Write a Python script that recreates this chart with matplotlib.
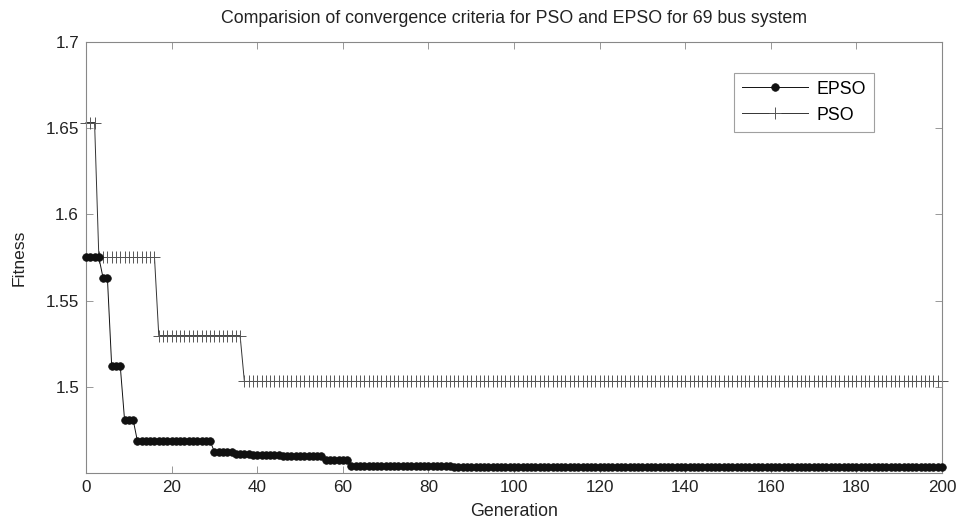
import numpy as np
import matplotlib
matplotlib.use("Agg")
import matplotlib.pyplot as plt

plt.rcParams['font.family'] = ['Liberation Sans', 'DejaVu Sans']

# Data (run-length: fitness level and number of generations)
generations = np.arange(0, 201)

epso_levels = [1.575, 1.563, 1.512, 1.481, 1.4686, 1.4622, 1.4609, 1.4603,
               1.4597, 1.4574, 1.4541, 1.4535]
epso_runs = [4, 2, 3, 3, 18, 5, 4, 7, 10, 6, 24, 115]

pso_levels = [1.6533, 1.575, 1.5297, 1.5031]
pso_runs = [3, 14, 20, 164]

epso = np.repeat(epso_levels, epso_runs)
pso = np.repeat(pso_levels, pso_runs)

x_ticks = [0, 20, 40, 60, 80, 100, 120, 140, 160, 180, 200]
y_ticks = [1.5, 1.55, 1.6, 1.65, 1.7]
y_ticklabels = ['1.5', '1.55', '1.6', '1.65', '1.7']

title = 'Comparision of convergence criteria for PSO and EPSO for 69 bus system'

fig = plt.figure(figsize=(9.6, 5.23), dpi=100)
ax = fig.add_axes([0.0896, 0.0956, 0.8917, 0.8241])

ax.plot(generations, epso, color='#111111', linewidth=0.7, marker='o',
        markersize=5.5, markerfacecolor='#111111', markeredgecolor='#111111',
        markeredgewidth=0.5, label='EPSO', clip_on=False, zorder=3)
ax.plot(generations, pso, color='#333333', linewidth=0.7, marker='+',
        markersize=9, markeredgewidth=0.7, markeredgecolor='#555555',
        label='PSO', clip_on=False, zorder=2)

ax.set_xlim(0, 200)
ax.set_ylim(1.45, 1.7)
ax.set_xticks(x_ticks)
ax.set_yticks(y_ticks)
ax.set_yticklabels(y_ticklabels)

for s in ax.spines.values():
    s.set_color('#888888')
    s.set_linewidth(0.8)
ax.tick_params(direction='in', top=True, right=True, length=5, width=0.6,
               color='#888888', labelsize=12.3, labelcolor='#222222', pad=5)

ax.set_title(title, fontsize=12.8, color='#222222', pad=14)
ax.set_xlabel('Generation', fontsize=12.8, color='#222222', labelpad=6)
ax.set_ylabel('Fitness', fontsize=12.6, color='#222222', labelpad=14)

leg = ax.legend(loc='upper left', bbox_to_anchor=(0.757, 0.9288),
                fontsize=12.8, frameon=True, fancybox=False, handlelength=3.7,
                handletextpad=0.5, borderpad=0.45, labelspacing=0.5,
                borderaxespad=0)
leg.get_frame().set_edgecolor('#888888')
leg.get_frame().set_linewidth(0.8)

fig.savefig('out.png', dpi=100)
